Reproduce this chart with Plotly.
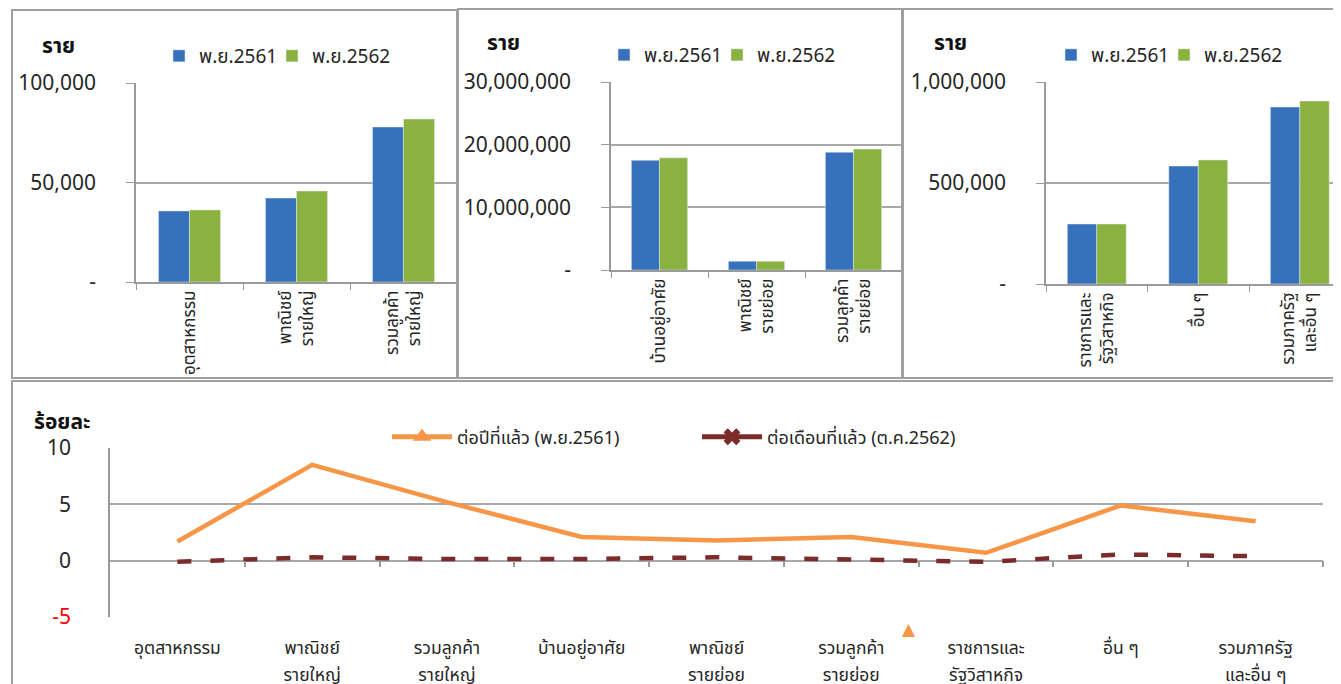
import plotly.graph_objects as go

W, H = 1341, 684
OFF = 8  # page body margin offset of the rendered figure
FONT = "Tahoma, 'Noto Sans Thai', 'Noto Sans', sans-serif"

def fx(x):
    return (x - OFF) / W

def fy(y):
    return 1 - (y - OFF) / H

# ---------------- data ----------------
series_names = ["พ.ย.2561", "พ.ย.2562"]

cats1 = ["อุตสาหกรรม", "พาณิชย์<br>รายใหญ่", "รวมลูกค้า<br>รายใหญ่"]
v1_2561 = [35700, 42200, 77900]
v1_2562 = [36200, 45700, 81900]

cats2 = ["บ้านอยู่อาศัย", "พาณิชย์<br>รายย่อย", "รวมลูกค้า<br>รายย่อย"]
v2_2561 = [17500000, 1400000, 18800000]
v2_2562 = [17900000, 1400000, 19300000]

cats3 = ["ราชการและ<br>รัฐวิสาหกิจ", "อื่น ๆ", "รวมภาครัฐ<br>และอื่น ๆ"]
v3_2561 = [297000, 584000, 876000]
v3_2562 = [297000, 614000, 906000]

line_cats = ["อุตสาหกรรม", "พาณิชย์<br>รายใหญ่", "รวมลูกค้า<br>รายใหญ่",
             "บ้านอยู่อาศัย", "พาณิชย์<br>รายย่อย", "รวมลูกค้า<br>รายย่อย",
             "ราชการและ<br>รัฐวิสาหกิจ", "อื่น ๆ", "รวมภาครัฐ<br>และอื่น ๆ"]
yoy = [1.7, 8.5, 5.2, 2.1, 1.8, 2.1, 0.7, 4.9, 3.5]
mom = [-0.1, 0.3, 0.15, 0.15, 0.3, 0.1, -0.1, 0.55, 0.4]
line_names = ["ต่อปีที่แล้ว (พ.ย.2561)", "ต่อเดือนที่แล้ว (ต.ค.2562)"]

y1_ticks = [0, 50000, 100000]
y1_text = ["-", "50,000", "100,000"]
y2_ticks = [0, 10000000, 20000000, 30000000]
y2_text = ["-", "10,000,000", "20,000,000", "30,000,000"]
y3_ticks = [0, 500000, 1000000]
y3_text = ["-", "500,000", "1,000,000"]
y4_ticks = [-5, 0, 5, 10]
y4_text = ['<span style="color:#FF0000">-5</span>', "0", "5", "10"]

# split the line-chart category names into their two printed lines
line_l1 = [c.split("<br>")[0] for c in line_cats]
line_l2 = [c.split("<br>")[1] if "<br>" in c else "" for c in line_cats]
line_idx = list(range(len(line_cats)))

BLUE = "#3771BB"
GREEN = "#8BB140"
ORANGE = "#F79646"
DARKRED = "#7A2B2A"
GRID = "#A8A8A8"
AXIS = "#9A9A9A"
TXT = "#262626"

fig = go.Figure()

panels = [
    (cats1, v1_2561, v1_2562, "x", "y", ["legend", "legend2"]),
    (cats2, v2_2561, v2_2562, "x2", "y2", ["legend3", "legend4"]),
    (cats3, v3_2561, v3_2562, "x3", "y3", ["legend5", "legend6"]),
]
for cats, a, b, xa, ya, lg in panels:
    fig.add_trace(go.Bar(x=cats, y=a, name=series_names[0], marker_color=BLUE,
                         xaxis=xa, yaxis=ya, legend=lg[0], hoverinfo="skip"))
    fig.add_trace(go.Bar(x=cats, y=b, name=series_names[1], marker_color=GREEN,
                         xaxis=xa, yaxis=ya, legend=lg[1], hoverinfo="skip"))

# line chart
fig.add_trace(go.Scatter(x=line_cats, y=yoy, mode="lines", name=line_names[0],
                         line=dict(color=ORANGE, width=4.5), xaxis="x4", yaxis="y4",
                         showlegend=False))
fig.add_trace(go.Scatter(x=line_cats, y=mom, mode="lines", name=line_names[1],
                         line=dict(color=DARKRED, width=4.5, dash="14px,19px"),
                         xaxis="x4", yaxis="y4", showlegend=False))
# legend entries (markers shown only in legend)
fig.add_trace(go.Scatter(x=[None], y=[None], mode="lines+markers", name=line_names[0],
                         line=dict(color=ORANGE, width=5),
                         marker=dict(symbol="triangle-up", size=16, color=ORANGE),
                         xaxis="x4", yaxis="y4", legend="legend7"))
fig.add_trace(go.Scatter(x=[None], y=[None], mode="lines+markers", name=line_names[1],
                         line=dict(color=DARKRED, width=5),
                         marker=dict(symbol="x", size=15, color=DARKRED),
                         xaxis="x4", yaxis="y4", legend="legend8"))
# helper traces so the overlay axes exist
fig.add_trace(go.Scatter(x=[], y=[], xaxis="x5", yaxis="y4", showlegend=False))
fig.add_trace(go.Scatter(x=[], y=[], xaxis="x6", yaxis="y4", showlegend=False))

def xcat(domain, rng, angle, size, anchor):
    return dict(domain=domain, range=rng, type="category", anchor=anchor,
                showline=True, linecolor=AXIS,
                linewidth=1.5, ticks="outside", tickson="boundaries", ticklen=6,
                tickcolor=AXIS, tickangle=angle, showgrid=False, zeroline=False,
                automargin=False,
                tickfont=dict(family=FONT, size=size, color=TXT), fixedrange=True)

def ylin(domain, rng, tv, tt, size, standoff, anchor, ticks="outside"):
    return dict(domain=domain, range=rng, tickvals=tv, ticktext=tt, anchor=anchor,
                showline=True, automargin=False,
                linecolor=AXIS, linewidth=1.5, ticks=ticks, ticklen=8, tickcolor=AXIS,
                showgrid=True, gridcolor=GRID, gridwidth=1.5, zeroline=False,
                ticklabelstandoff=standoff,
                tickfont=dict(family=FONT, size=size, color=TXT), fixedrange=True)

layout = dict(
    width=W, height=H, margin=dict(l=0, r=0, t=0, b=0, autoexpand=False),
    paper_bgcolor="white", plot_bgcolor="white",
    barmode="group", bargap=0.42, bargroupgap=0,
    font=dict(family=FONT, color=TXT),
    xaxis=xcat([fx(136), fx(457)], [-0.5, 2.5], -90, 17, "y"),
    yaxis=ylin([fy(282), fy(83)], [0, 100000], y1_ticks, y1_text, 21, 26, "x"),
    xaxis2=xcat([fx(611), fx(902)], [-0.5, 2.5], -90, 17, "y2"),
    yaxis2=ylin([fy(270), fy(82)], [0, 30000000], y2_ticks, y2_text, 21, 26, "x2"),
    xaxis3=xcat([fx(1046), fx(1341)], [-0.5, 2.406], -90, 17, "y3"),
    yaxis3=ylin([fy(284), fy(82)], [0, 1000000], y3_ticks, y3_text, 21, 26, "x3"),
    xaxis4=dict(domain=[fx(110), fx(1323)], range=[-0.5, 8.5], type="category",
                anchor="y4", automargin=False, tickvals=line_cats, ticktext=line_l1,
                showline=False, ticks="", showgrid=False, zeroline=False,
                ticklabelstandoff=18,
                tickfont=dict(family=FONT, size=17.5, color=TXT), fixedrange=True),
    yaxis4=ylin([fy(617), fy(448)], [-5, 10], y4_ticks, y4_text, 21, 33, "x4", ticks=""),
    xaxis5=dict(overlaying="x4", anchor="free", position=fy(560), side="bottom",
                range=[-0.5, 8.5], tickvals=[0.5, 1.5, 2.5, 3.5, 4.5, 5.5, 6.5, 7.5, 8.5],
                ticks="outside", ticklen=6, tickcolor=AXIS, tickwidth=1.5,
                showticklabels=False, showgrid=False, zeroline=False, showline=False,
                automargin=False, fixedrange=True),
    xaxis6=dict(overlaying="x4", anchor="y4", side="bottom", type="linear",
                range=[-0.5, 8.5], tickvals=line_idx, ticktext=line_l2,
                ticks="", showgrid=False, zeroline=False, showline=False,
                ticklabelstandoff=45, automargin=False, fixedrange=True,
                tickfont=dict(family=FONT, size=17.5, color=TXT)),
)

def leg(xpx, ypx, size, itemwidth=30):
    return dict(x=fx(xpx), y=fy(ypx), xanchor="left", yanchor="middle",
                orientation="h", bgcolor="rgba(0,0,0,0)", borderwidth=0,
                itemwidth=itemwidth, font=dict(family=FONT, size=size, color=TXT))

legend_pos = {
    "legend": (173 - 14, 56), "legend2": (286 - 14, 56),
    "legend3": (618 - 14, 55), "legend4": (731 - 14, 55),
    "legend5": (1065 - 14, 55), "legend6": (1178 - 14, 55),
}
for k, (xp, yp) in legend_pos.items():
    layout[k] = leg(xp, yp, 19)
layout["legend7"] = leg(457 - 70, 437, 18, itemwidth=60)
layout["legend8"] = leg(767 - 70, 437, 18, itemwidth=60)

fig.update_layout(**layout)

# panel frames
frames = [(12, 10, 457, 378), (458, 9, 902, 378), (903, 9, 1360, 378), (12, 381, 1360, 710)]
for x0, y0, x1, y1 in frames:
    fig.add_shape(type="rect", xref="paper", yref="paper", x0=fx(x0), x1=fx(x1),
                  y0=fy(y0), y1=fy(y1), line=dict(color="#A0A0A0", width=2),
                  fillcolor="rgba(0,0,0,0)", layer="above")

# axis titles
for xp, yp in [(40, 46), (485, 44), (932, 44)]:
    fig.add_annotation(text="<b>ราย</b>", xref="paper", yref="paper", x=fx(xp), y=fy(yp),
                       xanchor="left", yanchor="middle", showarrow=False,
                       font=dict(family=FONT, size=21, color="#111"))
fig.add_annotation(text="<b>ร้อยละ</b>", xref="paper", yref="paper", x=fx(32), y=fy(422),
                   xanchor="left", yanchor="middle", showarrow=False,
                   font=dict(family=FONT, size=21, color="#111"))
# stray legend marker seen in the source image
fig.add_annotation(text="▲", xref="paper", yref="paper", x=fx(909), y=fy(629),
                   xanchor="center", yanchor="middle", showarrow=False,
                   font=dict(family="DejaVu Sans", size=17, color=ORANGE))

fig.write_html("out.html")
